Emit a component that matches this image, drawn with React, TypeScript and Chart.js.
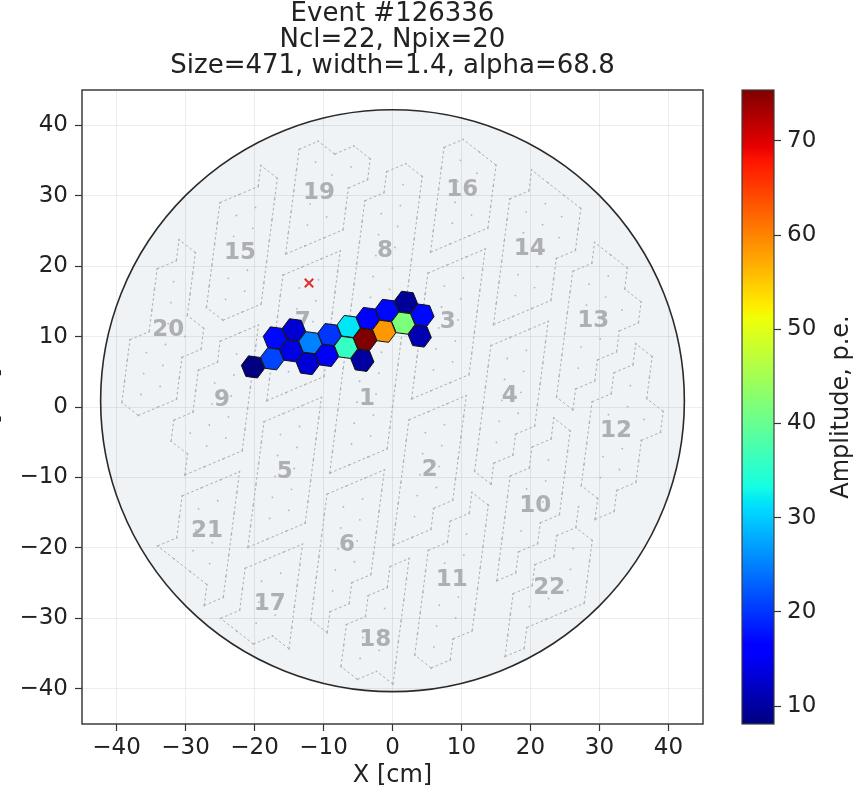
import React, { useEffect, useRef } from "react";
import { Chart, registerables } from "chart.js";

Chart.register(...registerables);

const FONT = '"DejaVu Sans", "Liberation Sans", sans-serif';
const W = 859;
const H = 795;
const CB_LEFT = 730;
const CB_W = W - CB_LEFT;

// ---- text ----
const titleLines = ["Event #126336", "Ncl=22, Npix=20", "Size=471, width=1.4, alpha=68.8"];
const xLabel = "X [cm]";
const yLabel = "Y [cm]";
const cbLabel = "Amplitude, p.e.";

// ---- axes ----
const axisTicks = [-40, -30, -20, -10, 0, 10, 20, 30, 40];
const axisMin = -45;
const axisMax = 45;
const cbTicks = [10, 20, 30, 40, 50, 60, 70];
const cbMin = 8.1;
const cbMax = 75.4;

// ---- event: hit pixels (cm) and amplitudes (p.e.) ----
const hitX = [-20.22, -17.44, -17.05, -14.28, -14.67, -11.9, -12.29, -9.13, -9.52, -6.35, -6.74, -3.58, -3.97, -4.37, -0.81, -1.2, 1.96, 1.57, 4.34, 3.95];
const hitY = [5.69, 6.84, 9.81, 10.96, 7.98, 9.13, 6.16, 10.28, 7.31, 11.43, 8.46, 12.57, 9.6, 6.62, 13.72, 10.75, 14.87, 11.9, 13.05, 10.07];
const hitAmp = [8.1, 21, 17, 13, 14, 25, 13, 20, 15, 31.7, 36, 16, 75.4, 10, 17, 58.6, 9.5, 41.8, 17, 11];

// ---- clusters: label positions (cm) ----
const clusterIds = [1, 2, 3, 4, 5, 6, 7, 8, 9, 10, 11, 12, 13, 14, 15, 16, 17, 18, 19, 20, 21, 22];
const clusterX = [-3.7, 5.4, 8.0, 17.0, -15.6, -6.6, -13.0, -1.1, -24.7, 20.7, 8.6, 32.4, 29.1, 19.9, -22.1, 10.1, -17.8, -2.5, -10.65, -32.5, -26.9, 22.7];
const clusterY = [1.1, -8.9, 12.1, 1.6, -9.2, -19.6, 12.1, 22.2, 1.0, -14.1, -24.6, -3.4, 12.2, 22.4, 21.9, 30.8, -28.0, -33.1, 30.4, 10.9, -17.6, -25.7];

// ---- source position marker ----
const sourceX = [-12.1];
const sourceY = [17.6];

// ---- camera geometry ----
const CAMERA_CX = 0;
const CAMERA_CY = 0.9;
const CAMERA_RX = 42.3;
const CAMERA_RY = 41.3;
const PIX_PITCH = 3;
const LATTICE_DEG = 22.5;
const PIX_MAX_R = 39.5;
const CLUSTER_HALF_I = 2;
const CLUSTER_HALF_J = 3.3;
const CLUSTER_REACH = 1.35;

const rad = (d: number) => (d * Math.PI) / 180;
const U = [PIX_PITCH * Math.cos(rad(LATTICE_DEG)), PIX_PITCH * Math.sin(rad(LATTICE_DEG))];
const V = [PIX_PITCH * Math.cos(rad(LATTICE_DEG + 60)), PIX_PITCH * Math.sin(rad(LATTICE_DEG + 60))];
const DET = U[0] * V[1] - V[0] * U[1];
const NB = [[1, 0], [0, 1], [-1, 1], [-1, 0], [0, -1], [1, -1]];
const lat = (i: number, j: number) => [i * U[0] + j * V[0], i * U[1] + j * V[1]];
const toLat = (x: number, y: number) => [(x * V[1] - V[0] * y) / DET, (U[0] * y - U[1] * x) / DET];

type Pix = { i: number; j: number; x: number; y: number; c: number };
function buildCamera() {
  const seeds = clusterX.map((x, k) => toLat(x, clusterY[k]));
  const pix: Pix[] = [];
  const map = new Map<string, number>();
  for (let i = -25; i <= 25; i++) {
    for (let j = -25; j <= 25; j++) {
      const [x, y] = lat(i, j);
      if (Math.hypot(x, y) > PIX_MAX_R) continue;
      let best = -1;
      let bd = 1e9;
      for (let k = 0; k < seeds.length; k++) {
        const di = (i - seeds[k][0]) / CLUSTER_HALF_I;
        const dj = (j - seeds[k][1]) / CLUSTER_HALF_J;
        const d = Math.hypot(di, dj);
        if (d < bd) { bd = d; best = k; }
      }
      if (bd > CLUSTER_REACH) continue;
      pix.push({ i, j, x, y, c: best });
      map.set(i + "," + j, best);
    }
  }
  const edgeCount = new Map<string, number>();
  const key = (a: number[], b: number[]) => {
    const ka = a[0] + "," + a[1];
    const kb = b[0] + "," + b[1];
    return ka < kb ? ka + "|" + kb : kb + "|" + ka;
  };
  for (let i = -26; i <= 25; i++) {
    for (let j = -26; j <= 25; j++) {
      const tris = [
        [[i, j], [i + 1, j], [i, j + 1]],
        [[i + 1, j], [i + 1, j + 1], [i, j + 1]],
      ];
      for (const t of tris) {
        const cs = t.map((p) => map.get(p[0] + "," + p[1]));
        if (cs[0] === undefined || cs[0] !== cs[1] || cs[0] !== cs[2]) continue;
        for (let e = 0; e < 3; e++) {
          const k = key(t[e], t[(e + 1) % 3]);
          edgeCount.set(k, (edgeCount.get(k) || 0) + 1);
        }
      }
    }
  }
  const segs: number[][] = [];
  for (const p of pix) {
    for (let k = 0; k < 3; k++) {
      const q = [p.i + NB[k][0], p.j + NB[k][1]];
      if (map.get(q[0] + "," + q[1]) !== p.c) continue;
      const n = edgeCount.get(key([p.i, p.j], q)) || 0;
      if (n <= 1) {
        const [qx, qy] = lat(q[0], q[1]);
        segs.push([p.x, p.y, qx, qy]);
      }
    }
  }
  return { pix, map, segs };
}
const camera = buildCamera();

function jet(t: number): string {
  t = Math.max(0, Math.min(1, t));
  const seg = (pts: number[][]) => {
    for (let k = 1; k < pts.length; k++) {
      if (t <= pts[k][0]) {
        const [x0, y0] = pts[k - 1];
        const [x1, y1] = pts[k];
        return y0 + ((y1 - y0) * (t - x0)) / (x1 - x0);
      }
    }
    return pts[pts.length - 1][1];
  };
  const r = seg([[0, 0], [0.35, 0], [0.66, 1], [0.89, 1], [1, 0.5]]);
  const g = seg([[0, 0], [0.125, 0], [0.375, 1], [0.64, 1], [0.91, 0], [1, 0]]);
  const b = seg([[0, 0.5], [0.11, 1], [0.34, 1], [0.65, 0], [1, 0]]);
  return `rgb(${Math.round(r * 255)},${Math.round(g * 255)},${Math.round(b * 255)})`;
}
const JET_STOPS = [0, 0.11, 0.125, 0.34, 0.35, 0.375, 0.64, 0.65, 0.66, 0.89, 0.91, 1];

const minus = (v: number | string) => String(v).replace("-", "\u2212");

function cameraEllipse(chart: any) {
  const xs = chart.scales.x;
  const ys = chart.scales.y;
  const cx = xs.getPixelForValue(CAMERA_CX);
  const cy = ys.getPixelForValue(CAMERA_CY);
  const rx = Math.abs(xs.getPixelForValue(CAMERA_CX + CAMERA_RX) - cx);
  const ry = Math.abs(ys.getPixelForValue(CAMERA_CY + CAMERA_RY) - cy);
  chart.ctx.beginPath();
  chart.ctx.ellipse(cx, cy, rx, ry, 0, 0, Math.PI * 2);
}

const cameraPlugin = {
  id: "camera",
  beforeDraw(chart: any) {
    const { ctx } = chart;
    ctx.save();
    cameraEllipse(chart);
    ctx.fillStyle = "#eff3f6";
    ctx.fill();
    ctx.restore();
  },
  beforeDatasetsDraw(chart: any) {
    const { ctx } = chart;
    const xs = chart.scales.x;
    const ys = chart.scales.y;
    const px = (x: number) => xs.getPixelForValue(x);
    const py = (y: number) => ys.getPixelForValue(y);
    ctx.save();
    cameraEllipse(chart);
    ctx.strokeStyle = "#2a2a2a";
    ctx.lineWidth = 1.6;
    ctx.stroke();
    ctx.strokeStyle = "#a9adb1";
    ctx.lineWidth = 1;
    ctx.setLineDash([2.5, 2.5]);
    ctx.beginPath();
    for (const s of camera.segs) {
      ctx.moveTo(px(s[0]), py(s[1]));
      ctx.lineTo(px(s[2]), py(s[3]));
    }
    ctx.stroke();
    ctx.setLineDash([]);
    ctx.restore();
  },
  afterDatasetDraw(chart: any, args: any) {
    if (args.index !== 1) return;
    const { ctx } = chart;
    const xs = chart.scales.x;
    const ys = chart.scales.y;
    const px = (x: number) => xs.getPixelForValue(x);
    const py = (y: number) => ys.getPixelForValue(y);
    ctx.save();
    ctx.font = `bold 23px ${FONT}`;
    ctx.fillStyle = "#adafb2";
    ctx.textAlign = "center";
    ctx.textBaseline = "middle";
    clusterIds.forEach((id, k) => ctx.fillText(String(id), px(clusterX[k]), py(clusterY[k])));
    const R = (PIX_PITCH / Math.sqrt(3)) * 0.98;
    hitAmp.forEach((a, k) => {
      ctx.beginPath();
      for (let v = 0; v < 6; v++) {
        const ang = rad(LATTICE_DEG + 30 + 60 * v);
        const X = px(hitX[k] + R * Math.cos(ang));
        const Y = py(hitY[k] + R * Math.sin(ang));
        if (v === 0) ctx.moveTo(X, Y); else ctx.lineTo(X, Y);
      }
      ctx.closePath();
      ctx.fillStyle = jet((a - cbMin) / (cbMax - cbMin));
      ctx.fill();
      ctx.strokeStyle = "#111";
      ctx.lineWidth = 1;
      ctx.stroke();
    });
    ctx.restore();
  },
  afterDraw(chart: any) {
    const { ctx, chartArea: ca } = chart;
    ctx.save();
    ctx.strokeStyle = "#3c3c3c";
    ctx.lineWidth = 1.5;
    ctx.strokeRect(ca.left, ca.top, ca.right - ca.left, ca.bottom - ca.top);
    ctx.fillStyle = "#222";
    ctx.textAlign = "center";
    ctx.textBaseline = "middle";
    ctx.font = `26px ${FONT}`;
    const mid = (ca.left + ca.right) / 2;
    titleLines.forEach((t, k) => ctx.fillText(t, mid, 14 + 26 * k));
    ctx.font = `24px ${FONT}`;
    ctx.fillText(xLabel, mid, 776);
    ctx.translate(-8, (ca.top + ca.bottom) / 2);
    ctx.rotate(-Math.PI / 2);
    ctx.fillText(yLabel, 0, 0);
    ctx.restore();
  },
};

const cbPlugin = {
  id: "colorbar",
  beforeDatasetsDraw(chart: any) {
    const { ctx, chartArea: ca } = chart;
    const g = ctx.createLinearGradient(0, ca.bottom, 0, ca.top);
    JET_STOPS.forEach((s) => g.addColorStop(s, jet(s)));
    ctx.save();
    ctx.fillStyle = g;
    ctx.fillRect(ca.left, ca.top, ca.right - ca.left, ca.bottom - ca.top);
    ctx.restore();
  },
  afterDraw(chart: any) {
    const { ctx, chartArea: ca } = chart;
    ctx.save();
    ctx.strokeStyle = "#3c3c3c";
    ctx.lineWidth = 1.2;
    ctx.strokeRect(ca.left, ca.top, ca.right - ca.left, ca.bottom - ca.top);
    ctx.fillStyle = "#222";
    ctx.font = `24px ${FONT}`;
    ctx.textAlign = "center";
    ctx.textBaseline = "middle";
    ctx.translate(112, (ca.top + ca.bottom) / 2);
    ctx.rotate(-Math.PI / 2);
    ctx.fillText(cbLabel, 0, 0);
    ctx.restore();
  },
};

export default function App() {
  const mainRef = useRef<HTMLCanvasElement>(null);
  const cbRef = useRef<HTMLCanvasElement>(null);

  useEffect(() => {
    const tickFont = { family: FONT, size: 23 };
    const main = new Chart(mainRef.current as HTMLCanvasElement, {
      type: "scatter",
      data: {
        datasets: [
          {
            label: "source",
            data: sourceX.map((x, k) => ({ x, y: sourceY[k] })),
            pointStyle: "crossRot",
            pointRadius: 6,
            borderColor: "#e0302c",
            backgroundColor: "#e0302c",
            borderWidth: 2,
          },
          {
            label: "pixels",
            data: camera.pix.map((p) => ({ x: p.x, y: p.y })),
            pointRadius: 0.9,
            backgroundColor: "#b0b6bb",
            borderWidth: 0,
          },
        ],
      },
      options: {
        animation: false,
        responsive: false,
        events: [],
        layout: { padding: { left: 0, top: 90, right: W - 703, bottom: 0 } },
        plugins: { legend: { display: false }, title: { display: false }, tooltip: { enabled: false } },
        scales: {
          x: {
            type: "linear",
            min: axisMin,
            max: axisMax,
            afterBuildTicks: (s: any) => { s.ticks = axisTicks.map((v) => ({ value: v })); },
            afterFit: (s: any) => { s.height = 71; },
            ticks: { font: tickFont, color: "#222", padding: 3, maxRotation: 0, autoSkip: false, callback: (v: any) => minus(v) },
            grid: { color: "rgba(0,0,0,0.07)", tickLength: 7, tickColor: "#333", tickWidth: 1.2 },
            border: { display: false },
          },
          y: {
            type: "linear",
            min: axisMin,
            max: axisMax,
            afterBuildTicks: (s: any) => { s.ticks = axisTicks.map((v) => ({ value: v })); },
            afterFit: (s: any) => { s.width = 82; },
            ticks: { font: tickFont, color: "#222", padding: 7, autoSkip: false, callback: (v: any) => minus(v) },
            grid: { color: "rgba(0,0,0,0.07)", tickLength: 7, tickColor: "#333", tickWidth: 1.2 },
            border: { display: false },
          },
        },
      },
      plugins: [cameraPlugin],
    } as any);

    const cb = new Chart(cbRef.current as HTMLCanvasElement, {
      type: "scatter",
      data: { datasets: [] },
      options: {
        animation: false,
        responsive: false,
        events: [],
        layout: { padding: { left: 12, top: 90, right: 0, bottom: H - 724 } },
        plugins: { legend: { display: false }, title: { display: false }, tooltip: { enabled: false } },
        scales: {
          x: { type: "linear", display: false, min: 0, max: 1 },
          y: {
            type: "linear",
            position: "right",
            min: cbMin,
            max: cbMax,
            afterBuildTicks: (s: any) => { s.ticks = cbTicks.map((v) => ({ value: v })); },
            afterFit: (s: any) => { s.width = CB_W - 44; },
            ticks: { font: tickFont, color: "#222", padding: 6, autoSkip: false },
            grid: { drawOnChartArea: false, tickLength: 7, tickColor: "#333", tickWidth: 1.2 },
            border: { display: false },
          },
        },
      },
      plugins: [cbPlugin],
    } as any);

    return () => {
      main.destroy();
      cb.destroy();
    };
  }, []);

  return (
    <div style={{ position: "fixed", left: 0, top: 0, width: W, height: H, background: "#fff" }}>
      <canvas ref={mainRef} width={W} height={H} style={{ position: "absolute", left: 0, top: 0 }} />
      <canvas ref={cbRef} width={CB_W} height={H} style={{ position: "absolute", left: CB_LEFT, top: 0 }} />
    </div>
  );
}
